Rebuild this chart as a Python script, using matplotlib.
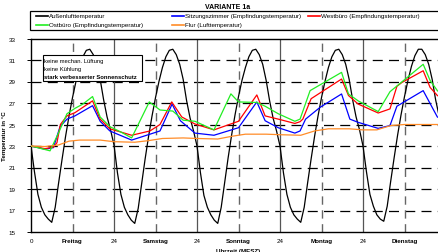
import matplotlib
matplotlib.use("Agg")
import matplotlib.pyplot as plt
from matplotlib.patches import Rectangle
from matplotlib.lines import Line2D

plt.rcParams['font.family'] = ['Liberation Sans', 'DejaVu Sans']

# Außenlufttemperatur, stündlich (je Zeile ein Tag, Stunde 0..23), plus Endwert bei 120 h
aussen_tage = [
    [23.0, 20.6, 18.5, 17.3, 16.6, 16.2, 15.9, 17.3, 19.6, 21.8, 23.9, 25.8,
     27.5, 29.0, 30.3, 31.3, 31.9, 32.0, 31.5, 30.6, 29.2, 27.3, 25.7, 24.5],
    [23.1, 20.5, 18.5, 17.3, 16.6, 16.1, 15.8, 17.2, 19.5, 21.8, 23.9, 25.8,
     27.5, 29.0, 30.3, 31.3, 31.9, 32.0, 31.5, 30.6, 29.2, 27.2, 25.6, 24.4],
    [23.0, 20.5, 18.4, 17.3, 16.6, 16.1, 15.8, 17.3, 19.6, 21.9, 24.0, 25.9,
     27.6, 29.1, 30.3, 31.3, 31.9, 32.0, 31.5, 30.6, 29.1, 27.2, 25.6, 24.4],
    [23.0, 20.5, 18.5, 17.3, 16.6, 16.2, 15.9, 17.3, 19.6, 21.8, 23.9, 25.8,
     27.5, 29.0, 30.3, 31.3, 31.9, 32.0, 31.5, 30.6, 29.2, 27.3, 25.7, 24.5],
    [23.0, 20.6, 18.5, 17.4, 16.6, 16.2, 16.0, 17.4, 19.7, 21.9, 24.0, 25.9,
     27.6, 29.1, 30.4, 31.4, 32.0, 32.0, 31.5, 30.6, 29.2, 27.3, 25.8, 24.6],
]
aussen_ende = 23.2

# Sitzungszimmer (Empfindungstemperatur)
t_sitzung = [0, 4, 6.5, 8.4, 10.4, 12.7, 17.8, 20, 22.8, 29.1, 34.4, 37.3, 40.8, 43.2,
             47.4, 52.9, 60, 65.3, 67.7, 71.5, 76.3, 77.8, 79.4, 83.6, 89.8, 92.2,
             94.6, 100.4, 103.8, 105.8, 113.4, 117.5, 120]
sitzung = [23.0, 22.7, 22.85, 24.8, 25.5, 25.8, 26.75, 25.3, 24.4, 23.55, 24.1, 24.4,
           26.9, 25.35, 24.2, 24.0, 24.7, 27.1, 25.35, 24.7, 24.2, 24.4, 25.5, 26.6,
           27.84, 25.5, 25.2, 24.64, 24.9, 26.7, 28.15, 25.7, 25.3]

# Westbüro (Empfindungstemperatur)
t_west = [0, 4, 6.5, 7.5, 8.5, 10.4, 12.7, 17.8, 20, 22.8, 29.1, 34.4, 37.3, 40.7, 43.6,
          47.4, 52.9, 60, 65.3, 67.7, 71.5, 76.3, 77.8, 78.6, 81, 89.8, 91.8, 94.6,
          100.4, 103.8, 105.8, 107.2, 113.4, 115.4, 117.5, 120]
west = [23.0, 22.75, 22.9, 23.3, 25.0, 25.8, 26.1, 27.2, 25.5, 24.6, 24.0, 24.4, 25.0,
        27.1, 25.7, 25.05, 24.5, 25.3, 27.75, 25.8, 25.5, 25.1, 25.26, 25.5, 27.4,
        29.23, 27.7, 26.9, 26.07, 26.45, 28.55, 28.9, 30.0, 28.45, 27.7, 27.2]

# Ostbüro (Empfindungstemperatur)
t_ost = [0, 2.5, 5.5, 7.8, 10.4, 12.7, 15, 17.8, 20, 22.8, 26, 29.1, 34.2, 37.3, 41,
         44, 47.4, 52.9, 57.8, 60, 65.3, 67.7, 71.5, 76.3, 77.8, 80.7, 89.8, 91.8,
         94.6, 100.4, 103.8, 113.4, 115.4, 117.5, 120]
ost = [23.0, 22.8, 22.55, 24.1, 26.0, 26.5, 26.9, 27.6, 25.7, 24.8, 24.3, 23.75, 27.1,
       26.35, 26.25, 25.4, 25.3, 24.5, 27.85, 27.1, 27.05, 26.7, 26.0, 25.3, 25.5,
       28.15, 29.85, 27.84, 27.2, 26.2, 28.05, 30.6, 29.1, 28.15, 27.5]

# Flur (Lufttemperatur)
t_flur = [0, 4, 8, 11, 14, 20, 24, 30, 34, 38, 44, 48, 54, 58, 62, 68, 72, 78, 82, 86,
          92, 96, 100, 104, 108, 114, 120]
flur = [23.0, 22.95, 23.1, 23.45, 23.55, 23.55, 23.4, 23.35, 23.5, 23.7, 23.75, 23.7,
        23.65, 23.9, 24.1, 24.1, 24.05, 24.0, 24.4, 24.6, 24.6, 24.5, 24.5, 24.9, 25.0,
        25.0, 25.0]

x_ticks = [0, 12, 24, 36, 48, 60, 72, 84, 96, 108]
x_labels = ["0", "Freitag", "24", "Samstag", "24", "Sonntag", "24", "Montag", "24", "Dienstag"]
y_ticks = [15, 17, 19, 21, 23, 25, 27, 29, 31, 33]
hinweise = ["keine mechan. Lüftung", "keine Kühlung", "stark verbesserter Sonnenschutz"]
namen = ["Außenlufttemperatur", "Sitzungszimmer (Empfindungstemperatur)",
         "Westbüro (Empfindungstemperatur)", "Ostbüro (Empfindungstemperatur)",
         "Flur (Lufttemperatur)"]
farben = ['black', '#0000FF', '#FF0000', '#22EE22', '#FF8C28']

t_aussen = []
aussen = []
for d, tag in enumerate(aussen_tage):
    for h, v in enumerate(tag):
        t_aussen.append(d * 24 + h)
        aussen.append(v)
t_aussen.append(120)
aussen.append(aussen_ende)

W, H = 438, 253
fig = plt.figure(figsize=(W / 100, H / 100), dpi=100)
ax = fig.add_axes([31 / W, 20 / H, 415 / W, 193.5 / H])

# Gitter
for y in y_ticks[1:-1]:
    ax.axhline(y, color='black', lw=0.9, ls=(0, (8, 5)), zorder=1)
for x in x_ticks[1:]:
    if x % 24 == 0:
        ax.axvline(x, color='#555555', lw=0.9, zorder=1)
    else:
        ax.axvline(x, color='#666666', lw=1.0, ls=(0, (6, 4)), zorder=1)

serien = [(t_aussen, aussen), (t_sitzung, sitzung), (t_west, west), (t_ost, ost), (t_flur, flur)]
for (t, v), c in zip(serien, farben):
    ax.plot(t, v, color=c, lw=0.9, zorder=3)

ax.set_xlim(0, 120)
ax.set_ylim(15, 33)
ax.set_yticks(y_ticks)
ax.set_yticklabels([str(v) for v in y_ticks])
ax.set_xticks(x_ticks)
ax.set_xticklabels(x_labels)
ax.tick_params(axis='y', labelsize=4.5, length=3, width=0.7, pad=8)
ax.tick_params(axis='x', labelsize=4.5, length=0, pad=4)
for lab in ax.get_xticklabels():
    if not lab.get_text().isdigit():
        lab.set_fontweight('bold')
for s in ['left', 'bottom', 'top']:
    ax.spines[s].set_linewidth(1.0)
ax.spines['right'].set_visible(False)

ax.set_xlabel("Uhrzeit (MESZ)", fontsize=4.5, fontweight='bold', labelpad=4)
ax.set_ylabel("Temperatur in °C", fontsize=4.5, fontweight='bold')
ax.yaxis.set_label_coords(-0.057, 0.5)

# Textkasten
ax.add_patch(Rectangle((3.5, 29.05), 28.6, 2.4, facecolor='white', edgecolor='black',
                       lw=0.8, zorder=5))
for i, txt in enumerate(hinweise):
    ax.text(3.9, 31.0 - i * 0.78, txt, fontsize=4.2, va='center', zorder=6,
            fontweight='bold' if i == 2 else 'normal')

fig.text(0.52, 0.985, "VARIANTE 1a", fontsize=5, fontweight='bold', ha='center', va='top')

# Legende (Excel-Stil: gleich breite Spalten)
fig.add_artist(Rectangle((30 / W, 1 - 31 / H), 420 / W, 19 / H, transform=fig.transFigure,
                         facecolor='white', edgecolor='black', lw=0.9))
spalten_x = [36, 36 + 136, 36 + 272, 36, 36 + 136]
zeilen_y = [16.5, 16.5, 16.5, 25.5, 25.5]
for name, c, px, py in zip(namen, farben, spalten_x, zeilen_y):
    fy = 1 - py / H
    fig.add_artist(Line2D([px / W, (px + 12) / W], [fy, fy], transform=fig.transFigure,
                          color=c, lw=1.2))
    fig.text((px + 13) / W, fy, name, fontsize=4.5, va='center', ha='left')

fig.savefig("out.png", dpi=100)
